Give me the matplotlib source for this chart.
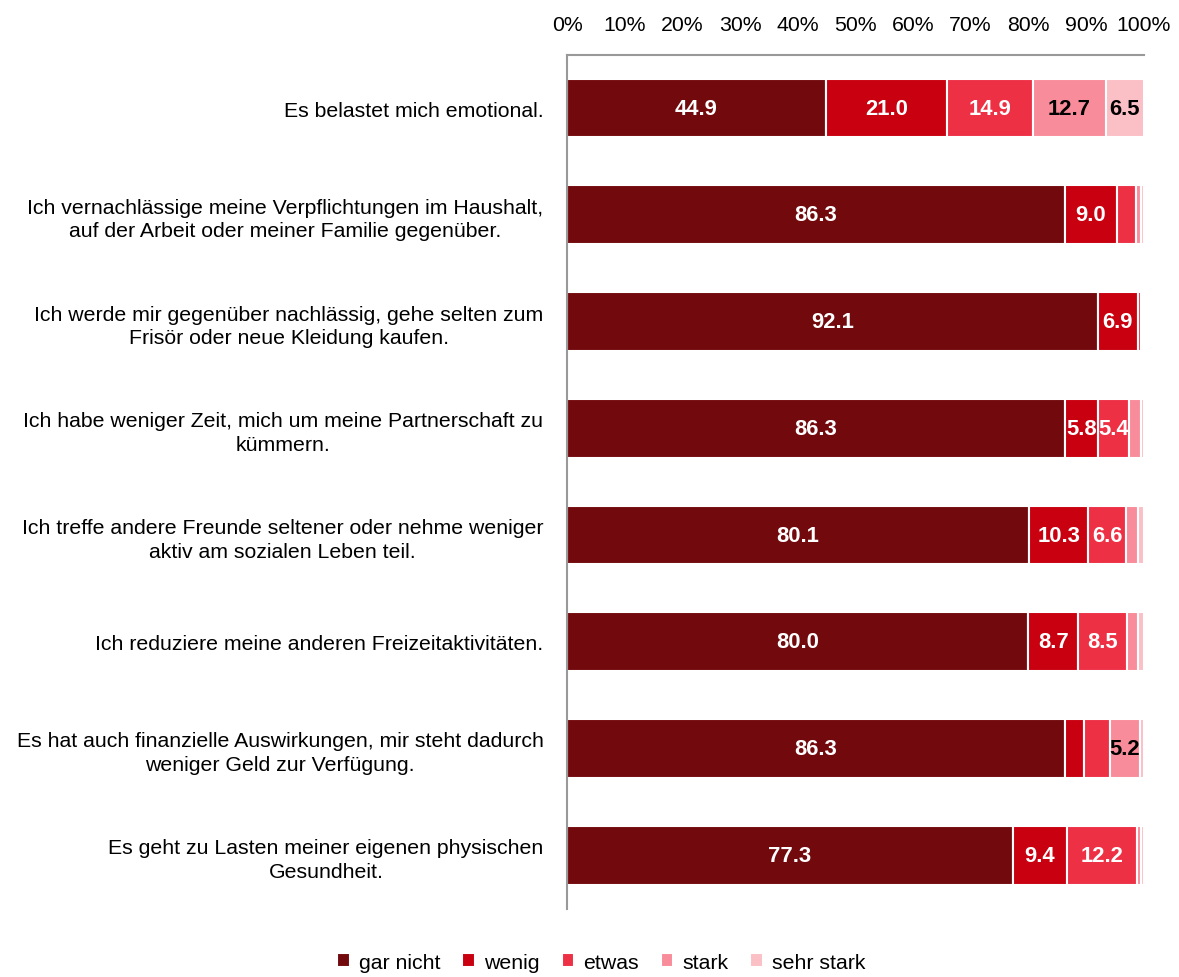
import numpy as np
import matplotlib.pyplot as plt

plt.rcParams['font.family'] = ['Liberation Sans Narrow', 'Liberation Sans', 'DejaVu Sans']

kategorien = [
    "Es belastet mich emotional.",
    "Ich vernachlässige meine Verpflichtungen im Haushalt,\nauf der Arbeit oder meiner Familie gegenüber.",
    "Ich werde mir gegenüber nachlässig, gehe selten zum\nFrisör oder neue Kleidung kaufen.",
    "Ich habe weniger Zeit, mich um meine Partnerschaft zu\nkümmern.",
    "Ich treffe andere Freunde seltener oder nehme weniger\naktiv am sozialen Leben teil.",
    "Ich reduziere meine anderen Freizeitaktivitäten.",
    "Es hat auch finanzielle Auswirkungen, mir steht dadurch\nweniger Geld zur Verfügung.",
    "Es geht zu Lasten meiner eigenen physischen\nGesundheit.",
]

serien = ["gar nicht", "wenig", "etwas", "stark", "sehr stark"]
gar_nicht  = [44.9, 86.3, 92.1, 86.3, 80.1, 80.0, 86.3, 77.3]
wenig      = [21.0,  9.0,  6.9,  5.8, 10.3,  8.7,  3.3,  9.4]
etwas      = [14.9,  3.4,  0.5,  5.4,  6.6,  8.5,  4.5, 12.2]
stark      = [12.7,  0.8,  0.3,  2.1,  2.0,  1.9,  5.2,  0.7]
sehr_stark = [ 6.5,  0.5,  0.2,  0.4,  1.0,  0.9,  0.7,  0.4]

farben = ["#720a0d", "#c8000f", "#ee3045", "#f88c9a", "#fbbfc6"]
textfarben = ["white", "white", "white", "black", "black"]

daten = [gar_nicht, wenig, etwas, stark, sehr_stark]

fs = 15.3

fig = plt.figure(figsize=(11.79, 9.78), dpi=100)
ax = fig.add_axes([0.481, 0.070, 0.489, 0.873])

y = np.arange(len(kategorien))
links = np.zeros(len(kategorien))
for werte, name, farbe, tf in zip(daten, serien, farben, textfarben):
    werte = np.array(werte)
    ax.barh(y, werte, left=links, height=0.55, color=farbe,
            edgecolor="white", linewidth=1.5, label=name)
    for i, v in enumerate(werte):
        if v >= 5:
            ax.text(links[i] + v / 2, y[i], f"{v:.1f}", ha="center", va="center",
                    color=tf, fontsize=fs + 0.5, fontweight="bold")
    links += werte

ax.set_xlim(0, 100)
ax.set_ylim(len(kategorien) - 0.5, -0.5)
ax.xaxis.tick_top()
ax.set_xticks(np.arange(0, 101, 10))
ax.set_xticklabels([f"{t}%" for t in range(0, 101, 10)], fontsize=fs)
ax.tick_params(axis="x", length=0, pad=15)
ax.set_yticks(y)
ax.set_yticklabels(kategorien, fontsize=fs, multialignment="center", linespacing=1.3)
ax.tick_params(axis="y", length=0, pad=17)

for s in ["right", "bottom"]:
    ax.spines[s].set_visible(False)
for s in ["top", "left"]:
    ax.spines[s].set_color("#999999")
    ax.spines[s].set_linewidth(1.5)

fig.legend(loc="lower center", bbox_to_anchor=(0.51, -0.014), ncol=5, frameon=False,
           fontsize=fs, handlelength=0.6, handleheight=0.6, handletextpad=0.4,
           columnspacing=1.05)

fig.savefig("out.png", dpi=100)
